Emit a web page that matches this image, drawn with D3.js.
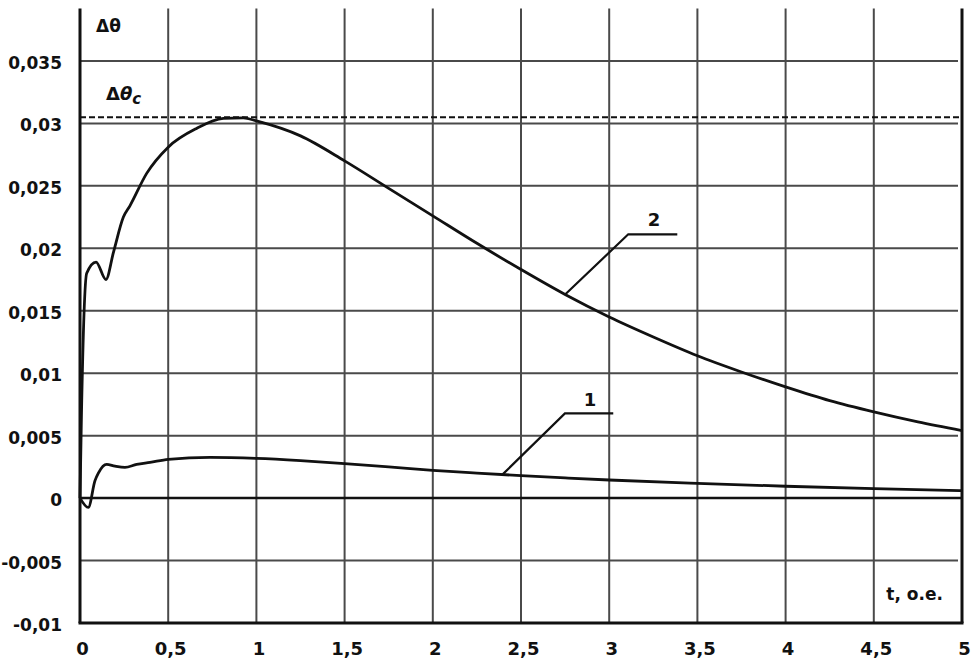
<!DOCTYPE html>
<html>
<head>
<meta charset="utf-8">
<script src="https://cdn.jsdelivr.net/npm/d3@7"></script>
<style>
  html, body { margin: 0; padding: 0; background: #fff; }
  svg { display: block; }
  text { font-family: "DejaVu Sans", Verdana, sans-serif; font-weight: bold; fill: #111; }
</style>
</head>
<body>
<svg id="chart" width="975" height="661"></svg>
<script>
// ---- data ----
const xTicks = [0, 0.5, 1, 1.5, 2, 2.5, 3, 3.5, 4, 4.5, 5];
const xTickLabels = ["0", "0,5", "1", "1,5", "2", "2,5", "3", "3,5", "4", "4,5", "5"];
const yTicks = [-0.01, -0.005, 0, 0.005, 0.01, 0.015, 0.02, 0.025, 0.03, 0.035];
const yTickLabels = ["-0,01", "-0,005", "0", "0,005", "0,01", "0,015", "0,02", "0,025", "0,03", "0,035"];

const t2 = [0, 0.008, 0.038, 0.091, 0.147, 0.19, 0.246, 0.283, 0.378, 0.5, 0.661, 0.813, 0.926, 1.0, 1.25, 1.5, 1.75, 2.0, 2.25, 2.5, 2.75, 3.0, 3.25, 3.5, 3.75, 4.0, 4.25, 4.5, 4.75, 5.0];
const v2 = [0, 0.0065, 0.018, 0.0189, 0.0175, 0.0197, 0.0225, 0.0234, 0.026, 0.0281, 0.0296, 0.0304, 0.03045, 0.0302, 0.0290, 0.0270, 0.0248, 0.0226, 0.0204, 0.0183, 0.0163, 0.0145, 0.0129, 0.0114, 0.0101, 0.0089, 0.0078, 0.0069, 0.0061, 0.0054];

const t1 = [0, 0.047, 0.085, 0.104, 0.151, 0.198, 0.255, 0.321, 0.397, 0.5, 0.737, 1.0, 1.25, 1.5, 1.75, 2.0, 2.25, 2.5, 2.75, 3.0, 3.5, 4.0, 4.5, 5.0];
const v1 = [0, -0.00075, 0.0014, 0.002, 0.0027, 0.00256, 0.00246, 0.0027, 0.00286, 0.0031, 0.00326, 0.00318, 0.0030, 0.00276, 0.0025, 0.00222, 0.0020, 0.0018, 0.00162, 0.00145, 0.00118, 0.00095, 0.00076, 0.0006];

const deltaThetaC = 0.0305;

// leader annotations (data coordinates): anchor on curve, elbow, end, label position
const leader2 = [[2.75, 0.0163], [3.108, 0.02112], [3.386, 0.02112]];
const label2 = { t: 3.254, v: 0.0218, text: "2" };
const leader1 = [[2.396, 0.0019], [2.749, 0.00678], [3.023, 0.00678]];
const label1 = { t: 2.891, v: 0.00737, text: "1" };

// ---- scales ----
const x = d3.scaleLinear().domain([0, 5]).range([80, 962]);
const y = d3.scaleLinear().domain([-0.01, 0.0392]).range([623, 8.5]);

const svg = d3.select("#chart");

// gridlines
const gridColor = "#4a4a4a";
svg.append("g").selectAll("line")
  .data(xTicks.filter(d => d > 0 && d < 5))
  .join("line")
  .attr("x1", d => x(d)).attr("x2", d => x(d))
  .attr("y1", y.range()[1]).attr("y2", y(-0.01))
  .attr("stroke", gridColor).attr("stroke-width", 2);

svg.append("g").selectAll("line")
  .data(yTicks.filter(d => d !== 0 && d !== -0.01))
  .join("line")
  .attr("x1", x(0)).attr("x2", x(5) - 4)
  .attr("y1", d => y(d)).attr("y2", d => y(d))
  .attr("stroke", gridColor).attr("stroke-width", 2);

// zero line
svg.append("line")
  .attr("x1", x(0)).attr("x2", x(5))
  .attr("y1", y(0)).attr("y2", y(0))
  .attr("stroke", "#111").attr("stroke-width", 2.5);

// dashed critical level
svg.append("line")
  .attr("x1", x(0)).attr("x2", x(5))
  .attr("y1", y(deltaThetaC)).attr("y2", y(deltaThetaC))
  .attr("stroke", "#111").attr("stroke-width", 2)
  .attr("stroke-dasharray", "6,3");

// axes frame: left, bottom, right
svg.append("line").attr("x1", x(0)).attr("x2", x(0)).attr("y1", y.range()[1]).attr("y2", y(-0.01))
  .attr("stroke", "#111").attr("stroke-width", 3);
svg.append("line").attr("x1", x(5)).attr("x2", x(5)).attr("y1", y.range()[1]).attr("y2", y(-0.01))
  .attr("stroke", "#111").attr("stroke-width", 3);
svg.append("line").attr("x1", x(0) - 1.5).attr("x2", x(5) + 1.5).attr("y1", y(-0.01)).attr("y2", y(-0.01))
  .attr("stroke", "#111").attr("stroke-width", 3);

// axes tick labels via d3 axes (lines removed)
const xAxis = d3.axisBottom(x).tickValues(xTicks).tickSize(0).tickPadding(0)
  .tickFormat((d, i) => xTickLabels[i]);
const gx = svg.append("g").attr("transform", `translate(2,${y(-0.01) + 32})`).call(xAxis);
gx.select(".domain").remove();
gx.selectAll("text").attr("font-size", 18).attr("font-family", null).attr("dy", 0)
  .style("font-family", "'DejaVu Sans', Verdana, sans-serif").style("font-weight", "bold").attr("fill", "#111");

const yAxis = d3.axisLeft(y).tickValues(yTicks).tickSize(0).tickPadding(0)
  .tickFormat((d, i) => yTickLabels[i]);
const gy = svg.append("g").attr("transform", `translate(62,2)`).call(yAxis);
gy.select(".domain").remove();
gy.selectAll("text").attr("font-size", 17).attr("font-family", null)
  .style("font-family", "'DejaVu Sans', Verdana, sans-serif").style("font-weight", "bold").attr("fill", "#111");

// curves
const line = d3.line().x(d => x(d[0])).y(d => y(d[1])).curve(d3.curveMonotoneX);
const s2 = t2.map((t, i) => [t, v2[i]]);
const s1 = t1.map((t, i) => [t, v1[i]]);
svg.append("path").attr("d", line(s2)).attr("fill", "none").attr("stroke", "#111").attr("stroke-width", 2.8);
svg.append("path").attr("d", line(s1)).attr("fill", "none").attr("stroke", "#111").attr("stroke-width", 2.8);

// leaders
const lin = d3.line().x(d => x(d[0])).y(d => y(d[1]));
svg.append("path").attr("d", lin(leader2)).attr("fill", "none").attr("stroke", "#111").attr("stroke-width", 2.2);
svg.append("path").attr("d", lin(leader1)).attr("fill", "none").attr("stroke", "#111").attr("stroke-width", 2.2);
svg.append("text").attr("x", x(label2.t)).attr("y", y(label2.v)).attr("text-anchor", "middle")
  .attr("font-size", 18).text(label2.text);
svg.append("text").attr("x", x(label1.t)).attr("y", y(label1.v)).attr("text-anchor", "middle")
  .attr("font-size", 18).text(label1.text);

// axis titles
svg.append("text").attr("x", 96).attr("y", 32).attr("font-size", 17).text("Δθ");
const tc = svg.append("text").attr("x", 106).attr("y", 100).attr("font-size", 18);
tc.append("tspan").text("Δ");
tc.append("tspan").attr("font-style", "italic").text("θ");
tc.append("tspan").attr("font-style", "italic").attr("font-size", 15).attr("dy", 4).text("c");
svg.append("text").attr("x", 943).attr("y", 600).attr("text-anchor", "end").attr("font-size", 17).text("t, o.e.");
</script>
</body>
</html>
